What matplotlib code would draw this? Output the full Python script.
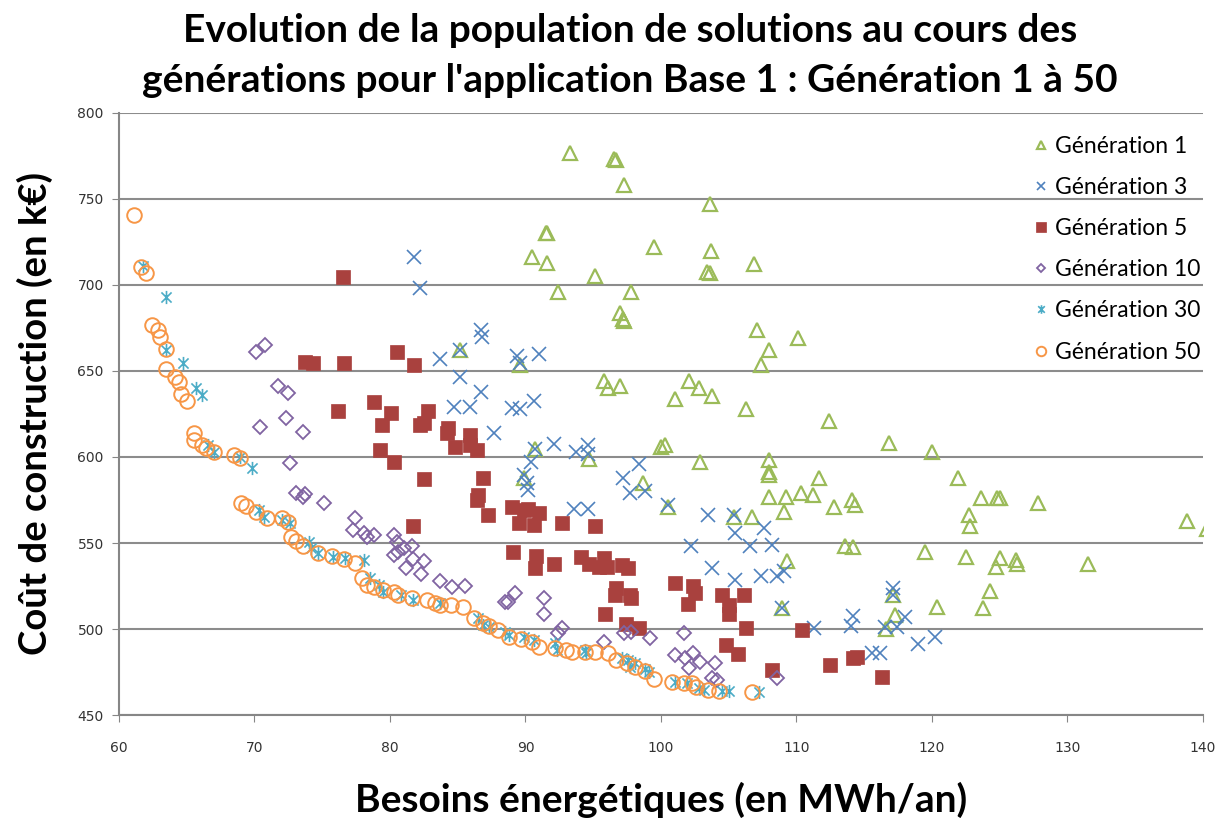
import matplotlib
matplotlib.use("Agg")
import matplotlib.pyplot as plt
from matplotlib.path import Path

# ---- data (x = besoins MWh/an, y = cout k€) ----
gen1_x = [93.3, 96.5, 96.7, 97.3, 91.6, 91.5, 99.5, 103.6, 103.7, 106.9, 103.4, 103.6,
          90.5, 91.6, 95.1, 92.4, 97.8, 97.0, 97.2, 97.3, 85.2, 89.6, 95.8, 96.1, 97.0,
          90.7, 94.7, 89.9, 98.7, 100.0, 107.1, 110.1, 108.0, 107.4, 102.1, 102.8, 101.0,
          103.8, 106.3, 112.4, 100.3, 116.8, 120.0, 102.9, 108.0, 108.0, 108.0, 111.7,
          108.0, 109.2, 110.3, 111.2, 114.1, 112.8, 114.3, 109.1, 106.7, 113.6, 114.2,
          119.5, 109.3, 117.1, 120.4, 117.3, 116.6, 100.5, 105.4, 108.9, 121.9, 123.6,
          124.8, 125.0, 127.8, 122.7, 122.8, 138.8, 140.3, 122.5, 125.0, 124.7, 126.2,
          126.3, 131.5, 124.3, 123.8]
gen1_y = [777, 773, 772.5, 758, 730, 730.5, 722, 747, 720, 712, 707.5, 707,
          716, 713, 705, 696, 696, 684, 680, 679, 662, 653.5, 644, 640, 641,
          604.6, 599, 588, 585, 606, 674, 669, 662, 653.5, 644, 640, 634,
          635.5, 628, 621, 607, 608, 603, 597, 598, 591, 589.5, 588,
          577, 577, 579, 578, 575, 571, 572, 568, 565, 548, 547.7,
          545, 539.5, 520, 513, 508, 500, 571, 565, 512, 588, 576,
          576, 576, 573, 566, 560, 563, 558, 542, 541, 536, 540,
          538, 538, 522, 512]

gen3_x = [81.8, 82.2, 86.7, 86.8, 83.7, 85.2, 89.4, 89.6, 91.0, 85.2, 86.7, 84.7, 85.9,
          89.0, 89.6, 90.6, 87.7, 92.1, 90.7, 90.4, 93.7, 94.6, 94.6, 89.9, 90.1, 97.2,
          98.4, 97.7, 98.8, 90.2, 93.6, 94.6, 100.5, 103.5, 105.4, 105.5, 107.6, 102.2,
          106.6, 108.2, 103.8, 105.5, 107.4, 108.6, 109.1, 108.9, 117.1, 117.1, 114.2,
          114.0, 111.3, 116.5, 118.0, 117.4, 119.0, 120.2, 115.6, 116.2]
gen3_y = [716, 698, 674, 670, 657, 662, 659, 654.5, 660, 646.5, 638, 629, 629,
          628.5, 628, 632.5, 614, 607.6, 604.6, 597, 603, 607, 602, 589.5, 585, 588,
          596, 579, 580, 581, 570, 570, 572, 566, 566, 556, 559, 548,
          548, 549, 535.5, 528.5, 531, 531, 534, 512, 524, 520, 507.5,
          502, 500.6, 501, 507, 501, 491, 495.5, 486, 486]

gen5_x = [76.5, 73.7, 74.3, 76.6, 80.5, 81.8, 76.2, 78.8, 79.4, 80.1, 79.3, 80.3, 82.8,
          82.2, 82.5, 84.3, 84.2, 84.8, 85.9, 86.4, 85.9, 82.5, 86.9, 86.5, 86.4, 87.2,
          81.7, 89.0, 89.9, 90.2, 91.0, 89.5, 90.6, 92.7, 95.1, 89.1, 90.8, 90.7, 92.1,
          94.1, 94.7, 95.4, 95.8, 96.0, 97.1, 97.6, 96.7, 96.6, 97.7, 97.8, 95.9, 97.4,
          98.4, 101.0, 102.4, 102.5, 102.0, 104.5, 106.1, 105.0, 105.0, 106.3, 110.4,
          104.8, 105.7, 108.2, 112.5, 114.2, 114.5, 116.3]
gen5_y = [704.7, 655, 654.6, 654.6, 661, 653.5, 627, 632, 618.6, 625.6, 604, 597, 627,
          618.6, 620, 617, 614, 605.8, 613, 604, 607, 587, 588, 578, 575, 566,
          560, 571, 569, 570, 567.4, 561.6, 560.5, 561.6, 560, 545, 542.4, 535.5, 537.8,
          542, 538, 536, 541, 536, 537, 535.5, 524, 520, 520, 518, 509, 503,
          500.6, 527, 525, 521, 514.5, 520, 519.5, 514, 509, 500.6, 499.4,
          490.7, 485.5, 476, 479, 483, 484, 472]

gen10_x = [70.1, 70.8, 71.7, 72.5, 70.4, 72.3, 73.6, 72.6, 73.1, 73.6, 73.7, 75.1, 77.4,
           77.3, 78.1, 78.3, 78.8, 80.3, 80.3, 80.5, 80.6, 81.0, 81.6, 81.7, 81.2, 82.5,
           82.3, 83.7, 84.6, 85.5, 88.5, 88.7, 89.2, 91.4, 91.4, 92.7, 92.4, 95.8, 97.3,
           97.8, 99.2, 101.7, 101.0, 101.8, 102.4, 102.9, 102.1, 104.0, 103.8, 104.1, 108.6]
gen10_y = [661, 665, 641, 637, 617.5, 622.7, 614.5, 596.5, 579, 576.7, 578.5, 573, 564.5,
           557.6, 556, 553.5, 554.7, 554.7, 543, 550.6, 545, 547, 548, 540.7, 535.5, 539.5,
           532, 528, 524.4, 525, 515.7, 515.7, 521, 518, 508.7, 500.6, 497.7, 492.5, 497.7,
           498.3, 494.8, 497.7, 484.9, 483, 486, 480.8, 477.3, 480, 471.5, 470.3, 471.5]

gen30_x = [61.8, 63.5, 63.5, 64.7, 65.7, 66.1, 66.6, 67.0, 68.9, 69.8, 70.3, 70.7, 72.0,
           72.6, 74.0, 74.2, 74.7, 75.8, 76.7, 78.1, 78.5, 79.2, 79.5, 80.8, 81.7, 83.7,
           86.5, 86.9, 87.3, 88.5, 88.8, 89.9, 90.6, 92.2, 92.3, 94.4, 94.5, 97.1, 97.6,
           97.7, 98.1, 98.8, 99.1, 101.0, 101.9, 102.8, 103.2, 104.5, 105.0, 107.2]
gen30_y = [711, 693, 662, 654.7, 640, 636, 607, 603, 600, 593.6, 569, 565, 563.4,
           561.6, 550.6, 547, 544, 542, 541, 540, 529.7, 525.6, 521.5, 519.8, 517, 515,
           506.4, 502.3, 501.2, 498.3, 496.5, 495.3, 493.6, 491.9, 487.8, 487.8, 486, 483.2, 482,
           478, 480.2, 476.7, 475, 469.2, 468.6, 465.7, 464.5, 464, 464, 463.4]

gen50_x = [61.1, 61.6, 62.0, 62.4, 62.9, 63.0, 63.5, 63.5, 64.1, 64.4, 64.6, 65.0, 65.5,
           65.5, 66.1, 66.4, 67.0, 68.5, 68.9, 69.0, 69.4, 70.1, 70.9, 72.0, 72.5, 72.7,
           73.1, 73.6, 74.7, 75.7, 76.6, 77.4, 77.9, 78.3, 78.8, 79.5, 80.3, 80.6, 81.6,
           82.7, 83.3, 83.7, 84.5, 85.4, 86.2, 86.9, 87.3, 88.0, 88.8, 89.7, 90.5, 91.0,
           92.2, 93.0, 93.4, 94.4, 95.1, 96.1, 96.7, 97.5, 98.1, 98.8, 99.5, 100.8, 101.7,
           102.3, 102.6, 103.5, 104.3, 106.7]
gen50_y = [740.7, 710.5, 707, 676.7, 673.8, 670, 663, 651, 646.5, 643.6, 636.6, 632.6, 614,
           610, 607, 605.2, 603, 601, 599.4, 573, 571.5, 568, 564.5, 564.5, 562, 553.5,
           551, 548, 544, 542.4, 540.7, 538.4, 529.7, 525.6, 524.4, 522.7, 521.5, 519.8, 518,
           517, 515, 514, 514, 513, 506.4, 503.5, 501.7, 499.4, 495.3, 494.2, 492.4, 489.5,
           489, 487.8, 486.6, 486.6, 486.6, 486, 482, 480.2, 477.9, 475.6, 471, 469.2, 468.6,
           468.6, 466.3, 464.5, 464, 463.4]

x_ticks = [60, 70, 80, 90, 100, 110, 120, 130, 140]
y_ticks = [450, 500, 550, 600, 650, 700, 750, 800]

# excel style asterisk: an X with a vertical bar through it
asterisk = Path([(-1, -1), (1, 1), (-1, 1), (1, -1), (0, -1.3), (0, 1.3)],
                [Path.MOVETO, Path.LINETO, Path.MOVETO, Path.LINETO, Path.MOVETO, Path.LINETO])

TXT = ["Lato", "DejaVu Sans"]

fig = plt.figure(figsize=(12.23, 8.18), dpi=100)
ax = fig.add_axes([0.0973, 0.1259, 0.9836 - 0.0973, 0.8619 - 0.1259])

# one plot call per generation
ax.plot(gen1_x, gen1_y, ls="none", marker="^", ms=9.5, mfc="none", mec="#9BBB59", mew=1.6,
        label="Génération 1", zorder=3)
ax.plot(gen3_x, gen3_y, ls="none", marker="x", ms=9.5, mec="#4F81BD", mew=1.2,
        label="Génération 3", zorder=3)
ax.plot(gen5_x, gen5_y, ls="none", marker="s", ms=10, mfc="#A9413E", mec="#A9413E", mew=0.5,
        label="Génération 5", zorder=3)
ax.plot(gen10_x, gen10_y, ls="none", marker="D", ms=7, mfc="none", mec="#8064A2", mew=1.3,
        label="Génération 10", zorder=3)
ax.plot(gen30_x, gen30_y, ls="none", marker=asterisk, ms=9.5, mfc="none", mec="#4BACC6", mew=1.2,
        label="Génération 30", zorder=3)
ax.plot(gen50_x, gen50_y, ls="none", marker="o", ms=10.5, mfc="none", mec="#F79646", mew=1.4,
        label="Génération 50", zorder=3)

ax.set_xlim(60, 140)
ax.set_ylim(450, 800)
ax.set_xticks(x_ticks)
ax.set_yticks(y_ticks)
ax.tick_params(direction="out", length=5, color="#868686", labelsize=10, labelcolor="#333333",
               pad=6)
ax.tick_params(axis="x", pad=14)

# horizontal gridlines only
ax.yaxis.grid(True, color="#8C8C8C", lw=1.5)
ax.set_axisbelow(True)
for side in ["top", "right"]:
    ax.spines[side].set_visible(False)
for side in ["left", "bottom"]:
    ax.spines[side].set_color("#868686")
    ax.spines[side].set_linewidth(1.5)

ax.set_xlabel("Besoins énergétiques (en MWh/an)", fontsize=28, fontweight="bold", family=TXT)
ax.set_ylabel("Coût de construction (en k€)", fontsize=27.5, fontweight="bold", family=TXT)
ax.xaxis.set_label_coords(0.5, -0.141)
ax.yaxis.set_label_coords(-0.0775, 0.5)
ax.xaxis.label.set_va("center")
ax.yaxis.label.set_va("center")

fig.text(0.515, 0.963, "Evolution de la population de solutions au cours des",
         ha="center", va="center", fontsize=28, fontweight="bold", family=TXT)
fig.text(0.515, 0.902, "générations pour l'application Base 1 : Génération 1 à 50",
         ha="center", va="center", fontsize=28, fontweight="bold", family=TXT)

ax.legend(loc="upper left", bbox_to_anchor=(0.8455, 0.834), bbox_transform=fig.transFigure,
          frameon=False, markerscale=0.65, handlelength=0.6, handletextpad=0.3,
          borderpad=0, borderaxespad=0, labelspacing=0.88,
          prop={"family": TXT, "size": 16.5})

plt.savefig("out.png", dpi=100)
plt.close()
